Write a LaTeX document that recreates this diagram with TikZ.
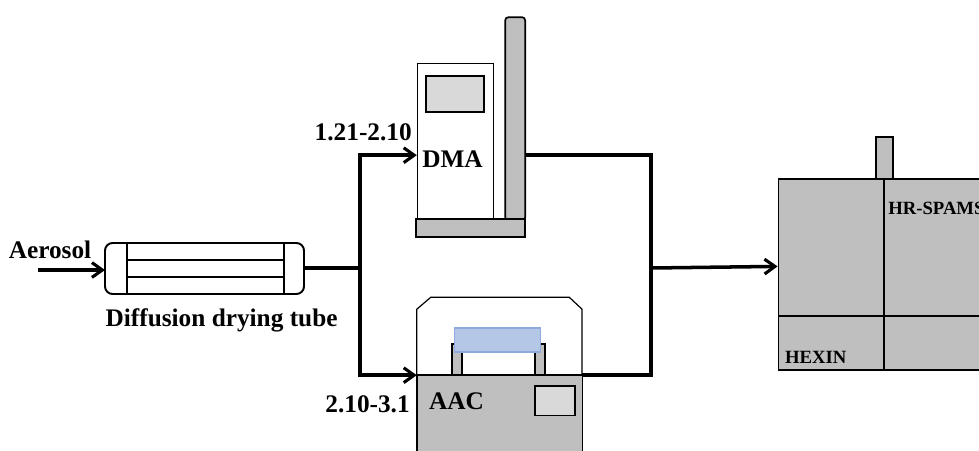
\documentclass[tikz,border=0pt]{standalone}
\usepackage{fontspec}
\setmainfont{Liberation Serif}
\usepackage{xcolor}
\usetikzlibrary{arrows.meta,positioning,calc}
\definecolor{ink}{HTML}{000000}
\definecolor{unitgray}{HTML}{BFBFBF}
\definecolor{screengray}{HTML}{D9D9D9}
\definecolor{bluepale}{HTML}{B4C7E7}
\definecolor{blueline}{HTML}{8FAADC}
\tikzset{
  >={Straight Barb[length=2.6mm,width=3.7mm,line width=2.2pt]},
  unit/.style={draw=ink,line width=1.2pt,inner sep=0pt,outer sep=0pt,anchor=north west},
  thinunit/.style={unit,line width=.85pt,fill=white},
  grayunit/.style={unit,fill=unitgray},
  screen/.style={unit,fill=screengray},
  flow/.style={line width=2.5pt,color=ink},
  tubeline/.style={line width=1.4pt,color=ink},
  label/.style={font=\bfseries\fontsize{18}{20}\selectfont,inner sep=0pt,text=ink},
  smalllabel/.style={font=\bfseries\fontsize{13.3}{15}\selectfont,inner sep=0pt,anchor=west,text=ink},
}

\begin{document}
\begin{tikzpicture}[x=1cm,y=1cm]
  \useasboundingbox (0,0) rectangle (24.475,-11.25);
  \clip (0,0) rectangle (24.475,-11.25);

  % drying tube
  \node[unit,rounded corners=1.9mm,line width=1.4pt,minimum width=4.975cm,minimum height=1.275cm] (tube) at (2.625,-6.075) {};
  \draw[tubeline] (3.175,-6.075) -- (3.175,-7.35);
  \draw[tubeline] (7.1,-6.075) -- (7.1,-7.35);
  \draw[tubeline] (3.175,-6.5) -- (7.1,-6.5);
  \draw[tubeline] (3.175,-6.925) -- (7.1,-6.925);
  \node[label] (aerosol) at (1.25,-6.25) {Aerosol};
  \node[label] (tubelabel) at (5.54,-8.0) {Diffusion drying tube};
  \coordinate (inlet) at (0.95,-6.75);

  % DMA
  \node[thinunit,minimum width=1.9cm,minimum height=3.9cm] (dma) at (10.44,-1.58) {};
  \node[screen,minimum width=1.45cm,minimum height=.9cm] (dmascreen) at (10.65,-1.9) {};
  \node[grayunit,rounded corners=.8mm,minimum width=.5cm,minimum height=5.08cm] (column) at (12.63,-.43) {};
  \node[grayunit,minimum width=2.72cm,minimum height=.45cm] (dmabase) at (10.4,-5.48) {};
  \node[label,anchor=west] (dmalabel) at (10.55,-3.98) {DMA};
  \node[label,anchor=east] (dmasize) at (10.3,-3.3) {1.21-2.10};

  % AAC
  \draw[line width=.85pt,color=ink] (10.42,-9.38) -- (10.42,-7.73) -- (10.77,-7.43) -- (14.23,-7.43) -- (14.55,-7.73) -- (14.55,-9.38);
  \node[grayunit,minimum width=.25cm,minimum height=.78cm] (legleft) at (11.3,-8.6) {};
  \node[grayunit,minimum width=.25cm,minimum height=.78cm] (legright) at (13.37,-8.6) {};
  \node[unit,line width=.85pt,draw=blueline,fill=bluepale,minimum width=2.15cm,minimum height=.6cm] (filter) at (11.36,-8.2) {};
  \node[grayunit,minimum width=4.13cm,minimum height=2.5cm] (aac) at (10.43,-9.38) {};
  \node[screen,minimum width=1cm,minimum height=.74cm] (aacscreen) at (13.38,-9.65) {};
  \node[label,anchor=west] (aaclabel) at (10.72,-10.03) {AAC};
  \node[label,anchor=east] (aacsize) at (10.25,-10.1) {2.10-3.1};

  % HR-SPAMS
  \node[grayunit,minimum width=.42cm,minimum height=1.1cm] (inletpipe) at (21.9,-3.43) {};
  \node[grayunit,minimum width=6cm,minimum height=4.78cm] (spams) at (19.46,-4.47) {};
  \draw[line width=1.2pt,color=ink] (22.1,-4.47) -- (22.1,-9.25);
  \draw[line width=1.2pt,color=ink] (19.46,-7.9) -- (24.6,-7.9);
  \node[smalllabel] (spamslabel) at (22.2,-5.22) {HR-SPAMS};
  \node[smalllabel] (hexinlabel) at (19.62,-8.93) {HEXIN};

  % flow lines
  \coordinate (split) at (9,-6.7);
  \coordinate (dmain) at (10.42,-3.88);
  \coordinate (aacin) at (10.42,-9.38);
  \coordinate (merge) at (16.28,-6.7);
  \coordinate (dmaout) at (13.13,-3.88);
  \coordinate (aacout) at (14.56,-9.38);
  \coordinate (spamsin) at (19.44,-6.66);
  \draw[flow,->] (inlet) -- (tube.west |- inlet);
  \draw[flow] (tube.east |- split) -- (split);
  \draw[flow,->] (split) |- (dmain);
  \draw[flow,->] (split) |- (aacin);
  \draw[flow] (dmaout) -| (merge) |- (aacout);
  \draw[flow,->] (merge) -- (spamsin);
\end{tikzpicture}
\end{document}
